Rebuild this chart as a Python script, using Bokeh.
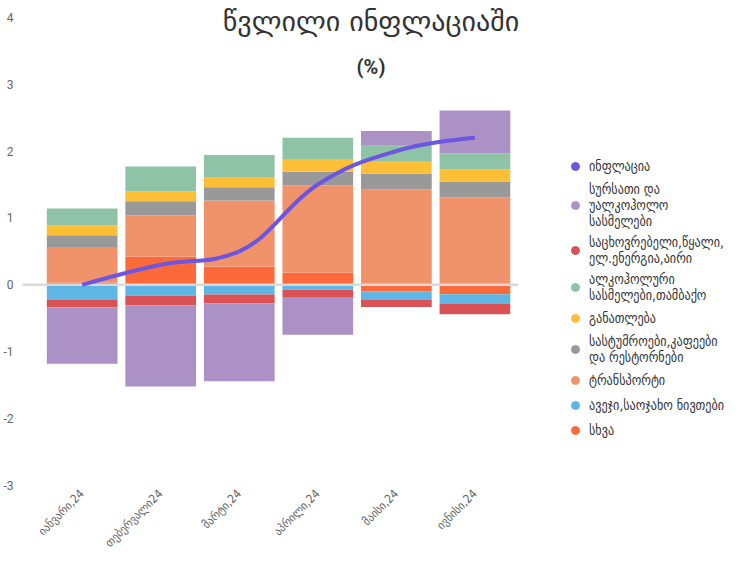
import math
from bokeh.plotting import figure
from bokeh.models import (Range1d, FixedTicker, Legend, LegendItem, Label,
                          ColumnDataSource)
from bokeh.embed import file_html
from bokeh.resources import INLINE

# ---------------- data ----------------
months = ['იანვარი,24', 'თებერვალი24', 'მარტი,24', 'აპრილი,24', 'მაისი,24', 'ივნისი,24']
food = [-0.84, -1.21, -1.16, -0.55, 0.22, 0.64]
housing = [-0.12, -0.145, -0.135, -0.12, -0.11, -0.16]
alcohol = [0.25, 0.37, 0.33, 0.33, 0.24, 0.24]
education = [0.15, 0.15, 0.15, 0.18, 0.18, 0.18]
hotels = [0.175, 0.21, 0.20, 0.20, 0.23, 0.235]
transport = [0.535, 0.62, 0.99, 1.31, 1.43, 1.31]
household = [-0.22, -0.165, -0.145, -0.075, -0.12, -0.14]
other = [0.03, 0.42, 0.27, 0.18, -0.10, -0.14]
inflation = [0.0, 0.3, 0.5, 1.5, 2.0, 2.2]

y_ticks = [-3, -2, -1, 0, 1, 2, 3, 4]

names = {
    'inflation': 'ინფლაცია',
    'food': 'სურსათი და\nუალკოჰოლო\nსასმელები',
    'housing': 'საცხოვრებელი,წყალი,\nელ.ენერგია,აირი',
    'alcohol': 'ალკოჰოლური\nსასმელები,თამბაქო',
    'education': 'განათლება',
    'hotels': 'სასტუმროები,კაფეები\nდა რესტორნები',
    'transport': 'ტრანსპორტი',
    'household': 'ავეჯი,საოჯახო ნივთები',
    'other': 'სხვა',
}
colors = {
    'inflation': '#6c56e0',
    'food': '#ab91c6',
    'housing': '#da5156',
    'alcohol': '#8ec3a7',
    'education': '#fdbf36',
    'hotels': '#999999',
    'transport': '#f0936a',
    'household': '#5db6e3',
    'other': '#fd6a39',
}
series = {'food': food, 'housing': housing, 'alcohol': alcohol,
          'education': education, 'hotels': hotels, 'transport': transport,
          'household': household, 'other': other, 'inflation': inflation}
stack_order = ['other', 'household', 'transport', 'hotels', 'education',
               'alcohol', 'housing', 'food']
legend_order = ['inflation', 'food', 'housing', 'alcohol', 'education',
                'hotels', 'transport', 'household', 'other']

GEO = "DejaVu Sans"
GEO_NARROW = "DejaVu Sans Condensed"
NUM = "Roboto"

# ---------------- figure ----------------
x_start = -0.7595
p = figure(width=728, height=557, output_backend="svg", toolbar_location=None,
           x_range=Range1d(x_start, 8.228), y_range=Range1d(-3.0, 4.25),
           min_border_left=18, min_border_right=0, min_border_top=0,
           min_border_bottom=0)
p.outline_line_color = None
p.xgrid.visible = False
p.ygrid.visible = False

xs = list(range(len(months)))

# stacked bars (positive and negative stacks separately)
pos = [0.0] * len(months)
neg = [0.0] * len(months)
for key in stack_order:
    vals = series[key]
    bottoms, tops = [], []
    for i, v in enumerate(vals):
        if v >= 0:
            bottoms.append(pos[i]); tops.append(pos[i] + v); pos[i] += v
        else:
            bottoms.append(neg[i]); tops.append(neg[i] + v); neg[i] += v
    src = ColumnDataSource(dict(x=xs, bottom=bottoms, top=tops))
    p.vbar(x='x', bottom='bottom', top='top', width=0.9, source=src,
           fill_color=colors[key], line_color=None)

# zero line across the category area
p.segment(x0=[x_start], x1=[len(months) - 1 + 0.55], y0=[0], y1=[0],
          line_color='#d9d9d9', line_width=2.5)

# spline (Highcharts-like smoothing) drawn with bezier segments
def spline_segments(px, py, smoothing=1.5):
    n = len(px)
    left = [None] * n
    right = [None] * n
    for i in range(1, n - 1):
        lx, ly = px[i - 1], py[i - 1]
        nx, ny = px[i + 1], py[i + 1]
        x, y = px[i], py[i]
        d = smoothing + 1
        lcx = (smoothing * x + lx) / d
        lcy = (smoothing * y + ly) / d
        rcx = (smoothing * x + nx) / d
        rcy = (smoothing * y + ny) / d
        corr = ((rcy - lcy) * (rcx - x)) / (rcx - lcx) + y - rcy
        lcy += corr
        rcy += corr
        if lcy > ly and lcy > y:
            lcy = max(ly, y); rcy = 2 * y - lcy
        elif lcy < ly and lcy < y:
            lcy = min(ly, y); rcy = 2 * y - lcy
        if rcy > ny and rcy > y:
            rcy = max(ny, y); lcy = 2 * y - rcy
        elif rcy < ny and rcy < y:
            rcy = min(ny, y); lcy = 2 * y - rcy
        left[i] = (lcx, lcy)
        right[i] = (rcx, rcy)
    seg = dict(x0=[], y0=[], x1=[], y1=[], cx0=[], cy0=[], cx1=[], cy1=[])
    for i in range(1, n):
        c0 = right[i - 1] or (px[i - 1], py[i - 1])
        c1 = left[i] or (px[i], py[i])
        seg['x0'].append(px[i - 1]); seg['y0'].append(py[i - 1])
        seg['x1'].append(px[i]); seg['y1'].append(py[i])
        seg['cx0'].append(c0[0]); seg['cy0'].append(c0[1])
        seg['cx1'].append(c1[0]); seg['cy1'].append(c1[1])
    return seg

p.bezier(source=ColumnDataSource(spline_segments(xs, inflation)),
         x0='x0', y0='y0', x1='x1', y1='y1', cx0='cx0', cy0='cy0',
         cx1='cx1', cy1='cy1', line_color=colors['inflation'], line_width=4)

# axes
p.yaxis.ticker = FixedTicker(ticks=y_ticks)
p.yaxis.major_label_overrides = {t: str(t) for t in y_ticks}
p.yaxis.axis_line_color = None
p.yaxis.major_tick_line_color = None
p.yaxis.minor_tick_line_color = None
p.yaxis.major_label_text_font = NUM
p.yaxis.major_label_text_font_size = "12px"
p.yaxis.major_label_text_color = "#666666"
p.yaxis.major_label_standoff = 3

p.xaxis.ticker = FixedTicker(ticks=xs)
p.xaxis.major_label_overrides = {i: m for i, m in enumerate(months)}
p.xaxis.axis_line_color = None
p.xaxis.major_tick_line_color = None
p.xaxis.minor_tick_line_color = None
p.xaxis.major_label_orientation = math.pi / 4
p.xaxis.major_label_text_font = GEO_NARROW
p.xaxis.major_label_text_font_size = "12px"
p.xaxis.major_label_text_color = "#666666"
p.xaxis.major_label_text_line_height = 1.0
p.xaxis.major_label_standoff = 0

# title (inside the plot area, as in the reference)
p.add_layout(Label(x=3.677, y=3.94, text='წვლილი ინფლაციაში', text_align='center',
                   text_baseline='middle', text_font=GEO, text_font_size='28px',
                   text_color='#333333'))
p.add_layout(Label(x=3.677, y=3.255, text='(%)', text_align='center',
                   text_baseline='middle', text_font=NUM, text_font_size='20px',
                   text_font_style='bold', text_color='#333333'))

# legend with circle markers (marker renderers are hidden in the plot)
items = []
for key in legend_order:
    r = p.scatter(x=xs, y=series[key], marker='circle', fill_color=colors[key],
                  line_color=colors[key], visible=False)
    items.append(LegendItem(label=names[key], renderers=[r]))
legend = Legend(items=items, location=(543, 45), margin=0, padding=6,
                glyph_width=20, glyph_height=20, label_standoff=4, spacing=5,
                label_text_font=GEO_NARROW, label_text_font_size='13.5px',
                label_text_color='#333333', label_text_line_height=1.4,
                inactive_fill_alpha=0, border_line_color=None,
                background_fill_alpha=0)
p.add_layout(legend)

open("out.html", "w").write(file_html(p, INLINE))
